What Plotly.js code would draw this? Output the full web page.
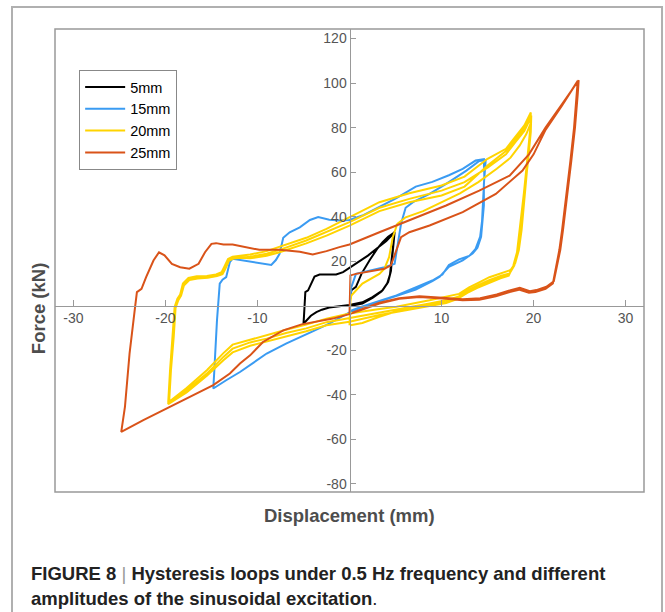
<!DOCTYPE html>
<html>
<head>
<meta charset="utf-8">
<script src="https://cdn.plot.ly/plotly-3.0.1.min.js"></script>
<style>html,body{margin:0;padding:0;background:#fff;}#chart{width:665px;height:612px;}</style>
</head>
<body>
<div id="chart"></div>
<script>
// ---- data ----
const seriesNames = ["5mm", "15mm", "20mm", "25mm"];

const disp5 = [0.1,0.2,0.7,1.3,2.2,3.0,3.6,4.2,4.9,
  4.8,4.7,4.6,4.5,4.2,3.6,2.5,1.4,0,-1.1,-2.2,-3.0,-3.6,-4.2,-4.7,-5.0,
  -4.95,-4.9,-4.8,-4.5,-4.2,-3.8,-3.25,-2.35,-1.45,-0.7,0,1.0,2.0,3.0,4.0,4.9,
  4.8,4.7,4.55,4.4,4.1,3.5,2.5,1.4,0.3];
const force5 = [4.0,6.9,8.5,14.3,20.5,25.5,28.5,31.0,33.0,
  28.0,24.8,19.0,15.5,10.6,6.9,3.9,1.5,0.3,-0.2,-0.8,-1.8,-2.9,-4.5,-6.6,-8.1,
  -5.0,0.9,6.1,6.9,9.9,13.1,14.0,13.9,14.0,15.1,17.0,19.8,22.5,25.8,29.0,33.0,
  29.0,24.0,18.0,14.0,10.0,6.5,3.5,1.0,0.1];

const disp15 = [0.1,0.2,0.7,2.2,3.8,4.9,5.2,5.4,5.6,6.1,6.9,8.7,10.5,12.7,14.1,14.8,
  14.7,14.6,14.6,14.5,14.3,13.9,13.4,12.3,10.8,9.8,9.0,7.2,5.1,3.25,1.4,0,-2.2,-4.0,-5.4,-6.9,-9.0,-10.5,-11.9,-13.4,-14.8,
  -14.7,-14.6,-14.4,-14.1,-13.8,-13.4,-13.0,-12.7,-11.9,-10.1,-8.5,-8.0,-7.6,-7.2,-6.5,-5.4,-4.3,-3.4,-2.2,-1.1,0,1.4,3.25,5.1,7.2,9.0,10.8,12.3,13.7,14.6,
  14.65,14.55,14.4,14.2,13.7,13.0,11.9,10.8,10.1,9.0,6.9,5.1,3.25,1.4,0];
const force15 = [3.0,8.3,14.3,15.8,17.3,18.8,26.3,33.0,36.8,44.0,46.5,50.2,54.7,60.7,65.0,65.5,
  60.0,54.7,45.0,39.7,31.0,26.0,23.5,20.3,17.5,13.0,11.0,7.2,4.3,1.9,-0.6,-3.0,-8.1,-11.5,-14.1,-17.0,-21.5,-26.0,-29.8,-33.5,-37.2,
  -30.0,-21.5,-6.6,9.9,11.7,12.8,19.6,21.1,20.6,19.6,18.3,20.5,23.3,30.5,33.0,35.2,38.5,39.8,38.6,38.3,38.5,40.5,44.5,48.3,53.5,55.6,58.6,61.5,65.2,65.8,
  58.0,48.0,38.0,31.0,25.5,22.3,20.8,18.3,14.0,11.3,7.6,4.6,2.1,-0.3,-2.5];

const disp20 = [
  // initial loading
  0,0.05,0.1,0.2,1.4,3.25,3.8,4.3,4.7,5.2,6.1,8.0,10.0,12.0,14.0,16.0,17.5,18.5,19.2,19.7,
  // unloading 1
  19.6,19.4,19.2,19.0,18.7,18.4,18.0,17.5,16.6,15.2,14.1,13.0,11.9,10.5,8.7,6.9,5.1,3.25,0,-2.5,-4.7,-6.9,-9.0,-10.8,-12.7,-13.7,-15.5,-17.7,-19.7,
  // reloading A
  -19.5,-19.2,-19.0,-18.7,-18.4,-18.1,-17.5,-16.6,-15.5,-14.5,-13.9,-13.6,-13.2,-12.7,-10.8,-9.0,-7.6,-4.7,-2.5,0,3.25,6.5,10.0,12.5,15.0,17.0,18.0,19.0,19.7,
  // unloading 2
  19.65,19.3,18.6,18.3,17.9,17.4,16.5,15.1,14.0,12.9,11.8,10.5,8.7,6.9,5.1,3.25,0,-2.5,-4.7,-6.9,-9.0,-10.8,-12.7,-13.7,-15.5,-17.7,-19.6,
  // reloading B
  -19.4,-19.1,-18.9,-18.6,-18.3,-18.0,-17.4,-16.5,-15.4,-14.4,-13.8,-13.5,-13.1,-12.6,-10.8,-9.0,-7.6,-4.7,-2.5,0,3.25,6.5,10.0,12.5,15.0,17.0,18.0,19.0,19.7,
  // unloading 3
  19.7,19.3,18.5,18.2,17.8,17.3,16.4,15.0,13.9,12.8,11.7,10.5,8.7,6.9,5.1,3.25,0,-2.5,-4.7,-6.9,-9.0,-10.8,-12.7,-13.7,-15.5,-17.7,-19.7,
  // reloading C
  -19.45,-19.15,-18.95,-18.65,-18.35,-18.05,-17.45,-16.55,-15.45,-14.45,-13.85,-13.55,-13.15,-12.65,-10.8,-9.0,-7.6,-4.7,-2.5,0,3.25,6.5,10.0,12.5,15.0,17.0,18.0,19.0,19.75,
  // unloading 4
  19.7,19.35,18.55,18.25,17.85,17.35,16.45,15.05,13.95,12.85,11.75,10.5,8.7,6.9,5.1,3.25,1.4,0.1];
const force20 = [
  -8.8,-3.0,2.0,4.6,9.9,14.3,16.6,21.8,30.8,36.8,39.7,42.5,46.5,50.5,55.5,61.5,66.5,72.0,77.0,82.0,
  75.0,65.0,55.0,45.0,34.0,25.0,19.0,16.0,14.8,12.8,10.5,8.2,5.3,3.9,2.4,1.0,-0.5,-1.5,-3.5,-5.8,-8.5,-10.8,-13.2,-15.0,-17.5,-21.3,-29.0,-37.0,-43.5,
  -29.0,-14.0,-0.6,3.1,5.0,10.0,12.5,13.2,13.3,14.0,15.0,17.5,21.0,22.0,23.0,24.5,26.5,30.5,34.5,39.7,46.5,50.5,54.0,58.0,66.0,70.5,76.0,81.0,86.8,
  80.0,65.0,34.0,24.0,18.0,14.5,13.5,11.3,9.2,7.0,4.0,2.4,1.0,-0.4,-1.8,-3.0,-5.5,-7.4,-10.2,-12.3,-14.8,-16.5,-19.3,-23.0,-30.5,-38.0,-43.5,
  -29.0,-14.0,-1.0,2.5,4.5,9.0,11.5,12.2,12.5,13.3,14.2,16.5,20.2,21.2,22.0,23.3,25.1,29.3,33.0,37.5,44.0,48.0,51.7,55.5,62.0,68.0,73.4,78.5,84.5,
  78.0,63.0,34.0,24.0,18.0,13.5,12.3,10.0,8.0,5.8,3.0,1.2,-0.2,-1.5,-3.0,-4.2,-7.2,-8.8,-11.5,-13.8,-16.2,-18.0,-21.0,-24.5,-31.5,-39.0,-44.2,
  -29.0,-14.0,-0.8,2.8,4.2,9.5,12.0,12.6,12.9,13.6,14.5,17.0,20.6,21.6,21.3,22.4,24.0,28.0,31.5,36.0,42.5,46.5,49.5,53.5,63.0,69.5,75.0,80.0,85.5,
  78.0,63.0,34.0,24.0,18.0,14.0,12.8,10.5,8.5,6.3,3.4,1.5,0.2,-1.2,-2.5,-5.0,-7.8,-8.8];

const disp25 = [
  0,0.05,0.1,0.7,2.5,3.8,4.5,5.1,5.6,6.5,8.7,12.3,15.9,18.8,20.0,21.3,23.1,24.8,
  24.7,24.4,24.0,23.6,23.1,22.8,22.4,22.1,21.3,20.2,19.5,18.4,17.4,15.9,14.1,12.3,10.5,7.6,5.4,3.25,0,-1.8,-5.2,-7.2,-9.4,-10.8,-11.9,-13.0,-14.8,-17.0,-19.9,-22.4,-24.8,
  -24.6,-24.4,-23.9,-23.5,-23.3,-23.1,-22.6,-22.1,-21.3,-20.7,-20.1,-19.3,-18.4,-17.4,-16.4,-15.7,-15.0,-14.5,-13.7,-12.7,-11.2,-9.8,-7.6,-5.4,-4.0,-2.5,-1.1,0,3.25,6.9,10.5,14.1,17.4,19.5,21.3,23.1,24.9,
  24.8,24.5,24.1,23.7,23.2,22.9,22.5,22.2,21.4,20.3,19.6,18.5,17.5,16.0,14.2,12.3,10.5,7.6,5.4,3.25,0.3];
const force25 = [
  -4.0,5.0,13.6,14.3,15.8,16.6,18.1,24.8,30.8,33.0,36.0,42.0,50.2,60.7,68.0,79.0,90.0,101.0,
  95.0,80.0,65.0,50.0,34.0,25.0,16.0,10.0,7.6,6.1,5.8,7.2,6.1,4.2,2.7,2.4,3.1,3.9,3.1,1.0,-3.8,-5.8,-8.4,-11.1,-16.3,-22.3,-26.0,-30.5,-35.7,-40.2,-46.2,-51.4,-56.7,
  -51.0,-45.5,-21.5,-6.0,-0.6,6.1,7.6,12.8,20.3,24.0,22.6,18.8,17.3,16.6,18.8,24.0,27.8,28.1,27.5,27.5,26.3,25.1,25.1,24.2,23.0,24.5,26.3,27.5,33.0,39.0,45.0,51.7,58.4,68.0,80.0,90.6,101.3,
  95.0,80.0,65.0,50.0,34.0,25.0,16.0,11.0,8.5,7.0,6.5,8.0,7.0,5.0,3.3,2.9,3.5,4.2,3.4,1.3,-3.2];

const xTickVals = [-30,-20,-10,10,20,30];
const xTickText = ["-30","-20","-10","10","20","30"];
const yTickVals = [-80,-60,-40,-20,20,40,60,80,100,120];
const yTickText = ["-80","-60","-40","-20","20","40","60","80","100","120"];

// ---- styling ----
const colors = ["#000000", "#3A9BF2", "#FFD400", "#D95319"];
const xs = [disp5, disp15, disp20, disp25];
const ys = [force5, force15, force20, force25];
const FONT = "Liberation Sans, Arial, Helvetica, sans-serif";

const traces = seriesNames.map((n, i) => ({
  type: "scatter", mode: "lines", name: n,
  x: xs[i], y: ys[i],
  line: {color: colors[i], width: 2}
}));

const xr = [-32, 32];
const yr = [-83.7, 124.3];
const xAxisPos = (0 - yr[0]) / (yr[1] - yr[0]);
const yAxisPos = (0 - xr[0]) / (xr[1] - xr[0]);

const layout = {
  width: 665, height: 612,
  margin: {l: 55, r: 21, t: 29, b: 120},
  paper_bgcolor: "#ffffff", plot_bgcolor: "#ffffff",
  font: {family: FONT, color: "#555555"},
  xaxis: {
    range: xr, anchor: "free", position: xAxisPos,
    showline: true, linecolor: "#999999", linewidth: 1,
    ticks: "inside", ticklen: 6, tickcolor: "#999999",
    tickmode: "array", tickvals: xTickVals, ticktext: xTickText,
    tickfont: {size: 14, color: "#555555", family: FONT},
    showgrid: false, zeroline: false
  },
  yaxis: {
    range: yr, anchor: "free", position: yAxisPos,
    showline: true, linecolor: "#999999", linewidth: 1,
    ticks: "inside", ticklen: 5, tickcolor: "#999999",
    tickmode: "array", tickvals: yTickVals, ticktext: yTickText,
    tickfont: {size: 14, color: "#555555", family: FONT},
    showgrid: false, zeroline: false
  },
  showlegend: true,
  legend: {
    x: 0.041, y: 0.9115, xanchor: "left", yanchor: "top",
    bgcolor: "#ffffff", bordercolor: "#888888", borderwidth: 1,
    font: {size: 14.5, color: "#000000", family: FONT},
    itemwidth: 40,
    tracegroupgap: 0
  },
  shapes: [
    {type: "rect", xref: "paper", yref: "paper", x0: 0, x1: 1, y0: 0, y1: 1,
     line: {color: "#999999", width: 1.5}},
    {type: "rect", xref: "paper", yref: "paper", x0: -0.073, x1: 1.0306, y0: -0.35, y1: 1.0475,
     line: {color: "#b0b0b0", width: 2}}
  ],
  annotations: [
    {text: "Displacement (mm)", xref: "paper", yref: "paper", x: 0.5, y: -0.0518,
     xanchor: "center", yanchor: "middle", showarrow: false,
     font: {size: 18.5, weight: "bold", color: "#4d4d4d", family: FONT}},
    {text: "Force (kN)", xref: "paper", yref: "paper", x: -0.0289, y: 0.397, textangle: -90,
     xanchor: "center", yanchor: "middle", showarrow: false,
     font: {size: 18.5, weight: "bold", color: "#4d4d4d", family: FONT}},
    {text: "FIGURE 8 <span style=\"font-weight:normal;color:#999999\">|</span> Hysteresis loops under 0.5 Hz frequency and different",
     xref: "paper", yref: "paper", x: -0.0441, y: -0.175, xanchor: "left", yanchor: "middle", showarrow: false,
     font: {size: 18.5, weight: "bold", color: "#222222", family: FONT}},
    {text: "amplitudes of the sinusoidal excitation<span style=\"font-weight:normal\">.</span>",
     xref: "paper", yref: "paper", x: -0.0441, y: -0.231, xanchor: "left", yanchor: "middle", showarrow: false,
     font: {size: 18.5, weight: "bold", color: "#222222", family: FONT}}
  ]
};

Plotly.newPlot("chart", traces, layout, {displayModeBar: false, staticPlot: true});
</script>
</body>
</html>
